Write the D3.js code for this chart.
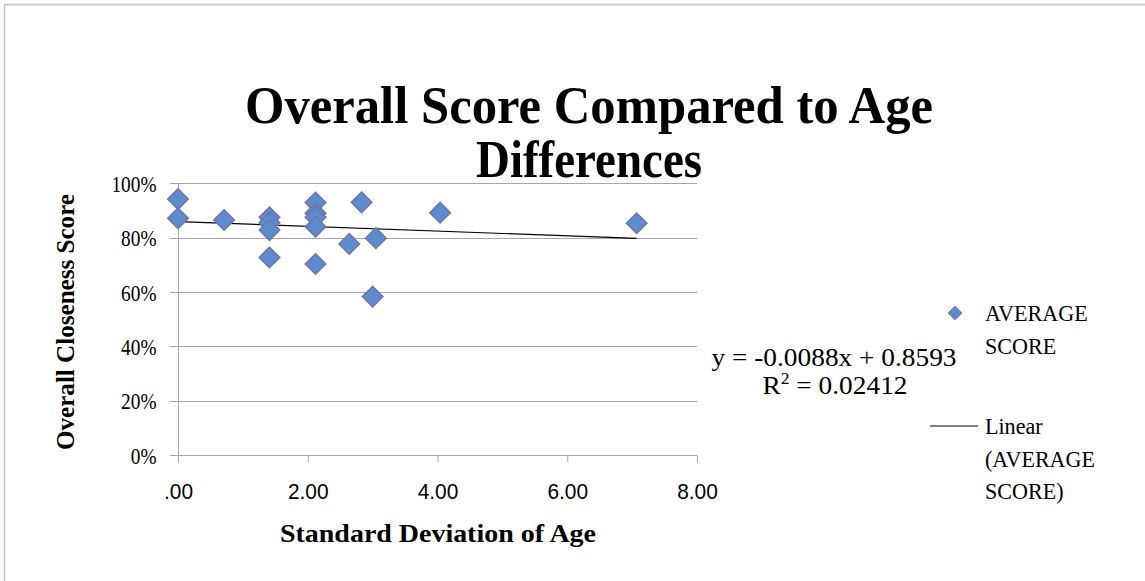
<!DOCTYPE html>
<html>
<head>
<meta charset="utf-8">
<script src="https://cdn.jsdelivr.net/npm/d3@7"></script>
<style>
  html, body { margin: 0; padding: 0; background: #fff; }
  svg { display: block; }
</style>
</head>
<body>
<svg id="chart" width="1145" height="581"></svg>
<script>
// Standard deviation of age per group and its average closeness score
const sdAge = [0, 0, 0.71, 1.41, 1.41, 1.41, 1.41, 2.12, 2.12, 2.12, 2.12, 2.12, 2.64, 2.83, 3.00, 3.05, 4.04, 7.07];
const avgScore = [0.942, 0.871, 0.865, 0.875, 0.855, 0.828, 0.727, 0.929, 0.890, 0.875, 0.840, 0.703, 0.777, 0.930, 0.583, 0.798, 0.892, 0.853];

// Linear fit reported by the spreadsheet
const fitSlope = -0.0088;
const fitIntercept = 0.8593;
const fitR2 = "0.02412";

const xTicks = [0, 2, 4, 6, 8];
const xTickLabels = [".00", "2.00", "4.00", "6.00", "8.00"];
const yTicks = [0, 0.2, 0.4, 0.6, 0.8, 1.0];

const titleLines = ["Overall Score Compared to Age", "Differences"];
const xTitle = "Standard Deviation of Age";
const yTitle = "Overall Closeness Score";
const legendSeries = ["AVERAGE", "SCORE"];
const legendTrend = ["Linear", "(AVERAGE", "SCORE)"];

const svg = d3.select("#chart");
const serif = "'Liberation Serif', 'DejaVu Serif', serif";
const sans = "'Liberation Sans', Arial, sans-serif";

// narrow or widen a text run by a factor of its natural width
function fitWidth(sel, factor) {
  sel.each(function () {
    const w = this.getComputedTextLength();
    this.setAttribute("textLength", w * factor);
    this.setAttribute("lengthAdjust", "spacingAndGlyphs");
  });
}
// force a text run to an exact width
function setWidth(sel, width) {
  sel.attr("textLength", width).attr("lengthAdjust", "spacingAndGlyphs");
}

// chart frame
svg.append("rect")
  .attr("x", 4.5).attr("y", 4.5)
  .attr("width", 1160).attr("height", 600)
  .attr("fill", "none").attr("stroke", "#c4c4c4").attr("stroke-width", 1.5);

const x = d3.scaleLinear().domain([0, 8]).range([178, 697]);
const y = d3.scaleLinear().domain([0, 1]).range([455, 183.3]);

// horizontal gridlines
svg.append("g")
  .selectAll("line")
  .data(yTicks)
  .join("line")
  .attr("x1", 170).attr("x2", x(8))
  .attr("y1", d => Math.round(y(d)) + 0.5).attr("y2", d => Math.round(y(d)) + 0.5)
  .attr("stroke", "#a6a6a6").attr("stroke-width", 1);

// y axis
const yAxis = svg.append("g")
  .attr("transform", `translate(${Math.round(x(0)) + 0.5},0)`)
  .call(d3.axisLeft(y).tickValues(yTicks).tickSize(0).tickPadding(22)
    .tickFormat(d => Math.round(d * 100) + "%"));
yAxis.select(".domain").attr("stroke", "#a6a6a6").attr("d", `M0,${y(1)}V${y(0) + 7}`);
yAxis.selectAll("text")
  .attr("font-family", serif).attr("font-size", 23).attr("fill", "#000").attr("dy", "0.36em");
fitWidth(yAxis.selectAll("text"), 0.84);

// x axis
const xAxis = svg.append("g")
  .attr("transform", `translate(0,${Math.round(y(0)) + 0.5})`)
  .call(d3.axisBottom(x).tickValues(xTicks).tickSize(7).tickPadding(21)
    .tickFormat((d, i) => xTickLabels[i]));
xAxis.select(".domain").attr("stroke", "#a6a6a6").attr("d", `M${x(0) - 8},0H${x(8)}`);
xAxis.selectAll(".tick line").attr("stroke", "#a6a6a6");
xAxis.selectAll("text")
  .attr("font-family", sans).attr("font-size", 22).attr("fill", "#000");
fitWidth(xAxis.selectAll("text"), 0.95);

// trend line over the data range
const xr = d3.extent(sdAge);
svg.append("line")
  .attr("x1", x(xr[0])).attr("y1", y(fitIntercept + fitSlope * xr[0]))
  .attr("x2", x(xr[1])).attr("y2", y(fitIntercept + fitSlope * xr[1]))
  .attr("stroke", "#000").attr("stroke-width", 1.2);

// data markers
const diamond = d3.symbol().type(d3.symbolDiamond2).size(270);
svg.append("g")
  .selectAll("path")
  .data(sdAge.map((d, i) => [d, avgScore[i]]))
  .join("path")
  .attr("d", diamond)
  .attr("transform", d => `translate(${x(d[0])},${y(d[1])})`)
  .attr("fill", "#5b8ccb")
  .attr("stroke", "#7272b4").attr("stroke-width", 1.5);

// title
const title = svg.append("g")
  .selectAll("text")
  .data(titleLines)
  .join("text")
  .attr("x", 589).attr("y", (d, i) => 123 + i * 54)
  .attr("text-anchor", "middle")
  .attr("font-family", serif).attr("font-weight", "bold").attr("font-size", 53)
  .text(d => d);
setWidth(title.filter((d, i) => i === 0), 688);
setWidth(title.filter((d, i) => i === 1), 226);

// axis titles
svg.append("text")
  .attr("x", 438).attr("y", 542)
  .attr("text-anchor", "middle")
  .attr("font-family", serif).attr("font-weight", "bold").attr("font-size", 26)
  .text(xTitle)
  .call(setWidth, 316);

svg.append("text")
  .attr("transform", "translate(74,322) rotate(-90)")
  .attr("text-anchor", "middle")
  .attr("font-family", serif).attr("font-weight", "bold").attr("font-size", 26)
  .text(yTitle)
  .call(setWidth, 256);

// regression equation
const eq = svg.append("g").attr("font-family", serif).attr("font-size", 25).attr("fill", "#000");
eq.append("text").attr("x", 834).attr("y", 366).attr("text-anchor", "middle")
  .text(`y = ${fitSlope.toFixed(4)}x + ${fitIntercept.toFixed(4)}`)
  .call(setWidth, 245);
const r2 = eq.append("text").attr("x", 835).attr("y", 394).attr("text-anchor", "middle");
r2.append("tspan").text("R");
r2.append("tspan").attr("font-size", 16).attr("dy", -10).text("2");
r2.append("tspan").attr("dy", 10).text(` = ${fitR2}`);
r2.call(setWidth, 145);

// legend
const lg = svg.append("g").attr("font-family", serif).attr("font-size", 24).attr("fill", "#000");
lg.append("path")
  .attr("d", d3.symbol().type(d3.symbolDiamond2).size(120)())
  .attr("transform", "translate(955,313)")
  .attr("fill", "#5b8ccb").attr("stroke", "#7272b4").attr("stroke-width", 1);
lg.selectAll("text.s")
  .data(legendSeries)
  .join("text").attr("class", "s")
  .attr("x", 985).attr("y", (d, i) => 321 + i * 32.5)
  .text(d => d)
  .call(fitWidth, 0.92);
lg.append("line")
  .attr("x1", 930).attr("x2", 978).attr("y1", 426).attr("y2", 426)
  .attr("stroke", "#000").attr("stroke-width", 1);
lg.selectAll("text.t")
  .data(legendTrend)
  .join("text").attr("class", "t")
  .attr("x", 985).attr("y", (d, i) => 434 + i * 32.5)
  .text(d => d)
  .call(fitWidth, 0.92);
</script>
</body>
</html>
